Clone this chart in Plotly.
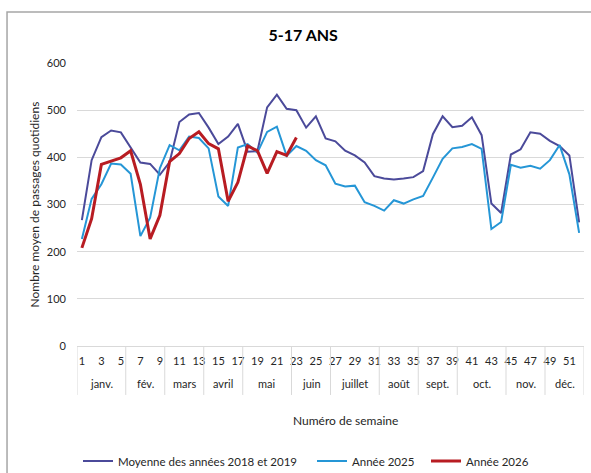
import plotly.graph_objects as go

weeks = list(range(1, 53))
moyenne_2018_2019 = [267, 394, 443, 457, 453, 421, 389, 386, 363, 390, 475, 491, 494, 463, 428, 444,
                     471, 412, 413, 506, 533, 503, 500, 463, 487, 440, 434, 414, 404, 389, 360, 355,
                     353, 355, 358, 371, 449, 487, 464, 467, 485, 447, 302, 282, 406, 417, 453, 450,
                     435, 424, 404, 262]
annee_2025 = [227, 312, 343, 387, 385, 365, 233, 272, 377, 426, 415, 444, 441, 419, 317, 297,
              421, 428, 410, 454, 465, 403, 424, 414, 394, 383, 344, 338, 340, 305, 297, 287,
              309, 302, 311, 318, 357, 397, 419, 422, 428, 418, 248, 263, 384, 378, 382, 376,
              394, 426, 364, 240]
annee_2026 = [208, 270, 385, 392, 399, 414, 343, 227, 277, 391, 408, 440, 454, 429, 418, 307,
              347, 424, 414, 366, 412, 404, 442]

months = ["janv.", "fév.", "mars", "avril", "mai", "juin", "juillet", "août", "sept.", "oct.", "nov.", "déc."]
month_first_week = [1, 6, 10, 14, 18, 23, 27, 32, 36, 40, 45, 49]
month_last_week = [5, 9, 13, 17, 22, 26, 31, 35, 39, 44, 48, 52]
tick_weeks = list(range(1, 53, 2))
y_ticks = [0, 100, 200, 300, 400, 500, 600]

FONT = "Lato"
TXT = "#262626"

fig = go.Figure()
fig.add_trace(go.Scatter(x=weeks, y=moyenne_2018_2019, mode="lines", name="Moyenne des années 2018 et 2019",
                         line=dict(color="#4B4A9A", width=2), legend="legend", showlegend=True))
fig.add_trace(go.Scatter(x=weeks, y=annee_2025, mode="lines", name="Année 2025",
                         line=dict(color="#2596D6", width=2), legend="legend2", showlegend=True))
fig.add_trace(go.Scatter(x=weeks[:len(annee_2026)], y=annee_2026, mode="lines", name="Année 2026",
                         line=dict(color="#B81C22", width=3), legend="legend3", showlegend=True))

shapes = []
# month separators
bounds = [month_first_week[0] - 0.5] + [w + 0.5 for w in month_last_week]
for b in bounds:
    shapes.append(dict(type="line", xref="x", yref="paper", x0=b, x1=b, y0=0, y1=-0.173,
                       line=dict(color="#D9D9D9", width=1)))
# outer chart border
shapes.append(dict(type="rect", xref="paper", yref="paper", x0=-0.138, x1=1.05, y0=-0.6, y1=1.18,
                   line=dict(color="#A6A6A6", width=1.5), fillcolor="rgba(0,0,0,0)", layer="below"))

annotations = []
for m, a, b in zip(months, month_first_week, month_last_week):
    annotations.append(dict(text=m, x=(a + b) / 2, xref="x", y=-0.134, yref="paper", showarrow=False,
                            font=dict(family=FONT, size=11, color=TXT), xanchor="center", yanchor="middle"))
annotations.append(dict(text="Numéro de semaine", x=0.53, xref="paper", y=-0.262, yref="paper",
                        showarrow=False, font=dict(family=FONT, size=12, color=TXT),
                        xanchor="center", yanchor="middle"))
annotations.append(dict(text="Nombre moyen de passages quotidiens", x=-0.083, xref="paper", y=0.5,
                        yref="paper", textangle=-90, showarrow=False,
                        font=dict(family=FONT, size=12, color=TXT), xanchor="center", yanchor="middle"))


def leg(xpx):
    return dict(orientation="h", x=xpx / 591, xref="container", xanchor="left", y=1 - 461 / 473,
                yref="container", yanchor="middle", font=dict(family=FONT, size=11.5, color=TXT),
                itemwidth=30, bgcolor="rgba(0,0,0,0)", visible=True)


fig.update_layout(
    width=591, height=473,
    showlegend=True,
    margin=dict(l=77, r=7, t=63, b=127),
    paper_bgcolor="white", plot_bgcolor="white",
    title=dict(text="<b>5-17 ANS</b>", x=0.513, xref="container", y=1 - 35 / 473, yref="container",
               xanchor="center", yanchor="middle", font=dict(family=FONT, size=16, color="black")),
    xaxis=dict(range=[0.5, 52.5], tickmode="array", tickvals=tick_weeks, ticktext=[str(w) for w in tick_weeks],
               showgrid=False, showline=True, linecolor="#D9D9D9", linewidth=1, ticks="", zeroline=False,
               tickfont=dict(family=FONT, size=11, color=TXT), ticklabelstandoff=5),
    yaxis=dict(range=[0, 600], tickmode="array", tickvals=y_ticks, showgrid=True, gridcolor="#D9D9D9",
               gridwidth=1, zeroline=False, showline=False, ticks="",
               tickfont=dict(family=FONT, size=11, color=TXT), ticklabelstandoff=10),
    legend=leg(78),
    legend2=leg(312),
    legend3=leg(426),
    shapes=shapes, annotations=annotations,
)

fig.write_html("out.html", config={"displayModeBar": False},
               post_script="document.body.style.margin='0';document.body.style.overflow='hidden';")
